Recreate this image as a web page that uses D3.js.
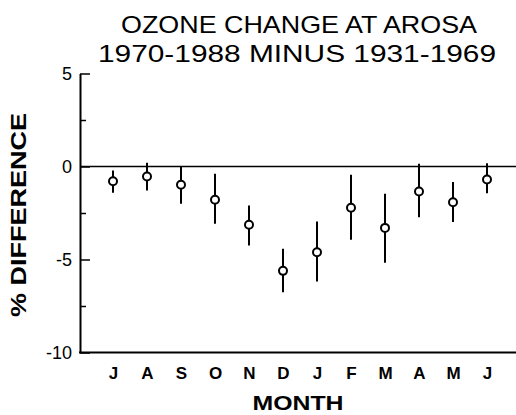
<!DOCTYPE html>
<html>
<head>
<meta charset="utf-8">
<script src="https://cdn.jsdelivr.net/npm/d3@7"></script>
<style>
  html, body { margin: 0; padding: 0; background: #fff; }
  svg { display: block; }
  text { font-family: "Liberation Sans", Arial, sans-serif; fill: #000; }
</style>
</head>
<body>
<svg id="chart" width="516" height="415"></svg>
<script>
const months = ["J", "A", "S", "O", "N", "D", "J", "F", "M", "A", "M", "J"];
const means  = [-0.79, -0.54, -0.98, -1.79, -3.13, -5.61, -4.61, -2.22, -3.30, -1.34, -1.92, -0.70];
const upper  = [-0.22,  0.20,  0.00, -0.39, -2.10, -4.42, -2.96, -0.45, -1.47,  0.15, -0.84,  0.18];
const lower  = [-1.41, -1.29, -2.00, -3.08, -4.25, -6.76, -6.18, -3.94, -5.18, -2.73, -2.99, -1.44];
const majorTicks = [5, 0, -5, -10];
const minorTicks = [2.5, -2.5, -7.5];
const titleLines = ["OZONE CHANGE AT AROSA", "1970-1988 MINUS 1931-1969"];

const svg = d3.select("#chart");
const axisX = 80, rightEdge = 516;

const y = d3.scaleLinear().domain([-10, 5]).range([352.5, 73.5]);
const x = d3.scalePoint().domain(d3.range(months.length)).range([113, 487]);

// Title
svg.append("text").attr("x", 299).attr("y", 33).attr("text-anchor", "middle")
  .attr("font-size", 24).attr("textLength", 356).attr("lengthAdjust", "spacingAndGlyphs")
  .text(titleLines[0]);
svg.append("text").attr("x", 297).attr("y", 62).attr("text-anchor", "middle")
  .attr("font-size", 24).attr("textLength", 398).attr("lengthAdjust", "spacingAndGlyphs")
  .text(titleLines[1]);

// Y axis (major ticks with labels, inside)
const yAxis = d3.axisLeft(y).tickValues(majorTicks).tickSizeInner(-10).tickSizeOuter(0)
  .tickPadding(8).tickFormat(d => d === 0 ? "0" : d3.format("d")(d).replace("−", "-"));
const gy = svg.append("g").attr("transform", `translate(${axisX},0)`).call(yAxis);
gy.select(".domain").attr("stroke", "#000").attr("stroke-width", 2);
gy.selectAll(".tick line").attr("stroke", "#000").attr("stroke-width", 1.5);
gy.selectAll(".tick text").attr("font-size", 18).attr("font-family", "Liberation Sans, Arial, sans-serif")
  .attr("fill", "#000").attr("dy", "0.36em");

// Minor ticks
const yMinor = d3.axisLeft(y).tickValues(minorTicks).tickSizeInner(-6).tickSizeOuter(0).tickFormat("");
const gm = svg.append("g").attr("transform", `translate(${axisX},0)`).call(yMinor);
gm.select(".domain").remove();
gm.selectAll(".tick line").attr("stroke", "#000").attr("stroke-width", 1.5);

// Zero line
svg.append("line").attr("x1", axisX).attr("x2", rightEdge)
  .attr("y1", y(0)).attr("y2", y(0)).attr("stroke", "#000").attr("stroke-width", 1.5);

// Bottom axis
const xAxis = d3.axisBottom(x).tickSize(0).tickPadding(14).tickFormat(i => months[i]);
const gx = svg.append("g").attr("transform", `translate(0,${y(-10)})`).call(xAxis);
gx.select(".domain").remove();
gx.selectAll(".tick text").attr("font-size", 17).attr("font-weight", "bold")
  .attr("font-family", "Liberation Sans, Arial, sans-serif").attr("fill", "#000");
svg.append("line").attr("x1", axisX - 1).attr("x2", rightEdge)
  .attr("y1", y(-10)).attr("y2", y(-10)).attr("stroke", "#000").attr("stroke-width", 2);

// Axis titles
svg.append("text").attr("x", 298).attr("y", 410).attr("text-anchor", "middle")
  .attr("font-size", 20).attr("font-weight", "bold").attr("textLength", 91)
  .attr("lengthAdjust", "spacingAndGlyphs").text("MONTH");
svg.append("text").attr("transform", "translate(26,215) rotate(-90)").attr("text-anchor", "middle")
  .attr("font-size", 22).attr("font-weight", "bold").attr("textLength", 204)
  .attr("lengthAdjust", "spacingAndGlyphs").text("% DIFFERENCE");

// Error bars
const idx = d3.range(months.length);
svg.append("g").selectAll("line").data(idx).join("line")
  .attr("x1", i => x(i)).attr("x2", i => x(i))
  .attr("y1", i => y(upper[i])).attr("y2", i => y(lower[i]))
  .attr("stroke", "#000").attr("stroke-width", 2);

// Points
svg.append("g").selectAll("circle").data(idx).join("circle")
  .attr("cx", i => x(i)).attr("cy", i => y(means[i])).attr("r", 4)
  .attr("fill", "#fff").attr("stroke", "#000").attr("stroke-width", 2);
</script>
</body>
</html>
